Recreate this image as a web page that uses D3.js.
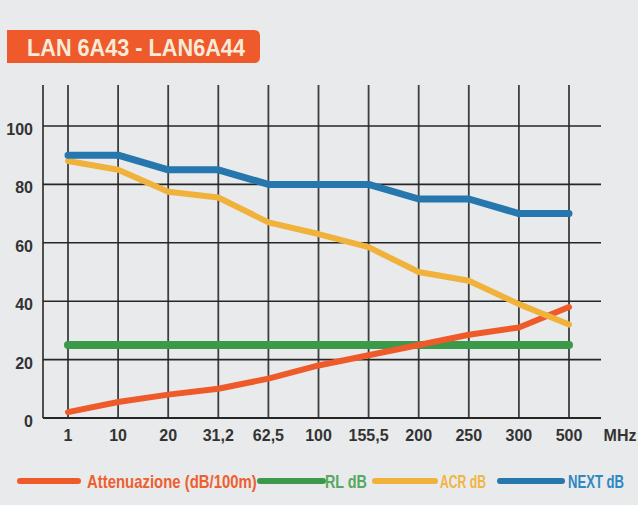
<!DOCTYPE html>
<html>
<head>
<meta charset="utf-8">
<script src="https://cdn.jsdelivr.net/npm/d3@7"></script>
<style>
  body { margin: 0; background: #e8eaeb; }
  text { font-family: "Liberation Sans Narrow", "Liberation Sans", sans-serif; font-weight: bold; }
</style>
</head>
<body>
<div id="chart"></div>
<script>
// frequencies on the x axis (MHz)
var freqLabels = ["1", "10", "20", "31,2", "62,5", "100", "155,5", "200", "250", "300", "500"];
var yTicks = [0, 20, 40, 60, 80, 100];

// series values
var attenuazione = [2, 5.5, 8, 10, 13.5, 18, 21.5, 25, 28.5, 31, 38];
var rl = [25, 25, 25, 25, 25, 25, 25, 25, 25, 25, 25];
var acr = [88, 85, 77.5, 75.5, 67, 63, 58.5, 50, 47, 39, 32];
var next = [90, 90, 85, 85, 80, 80, 80, 75, 75, 70, 70];

var seriesNames = ["Attenuazione (dB/100m)", "RL dB", "ACR dB", "NEXT dB"];
var seriesColors = ["#ee5a2a", "#3b9a49", "#f0b23b", "#2577ad"];
var textColors = ["#ee5f30", "#56a862", "#f1b445", "#2f88c2"];
var seriesWidths = [6, 8, 6, 7];
var title = "LAN 6A43 - LAN6A44";

var W = 638, H = 505;
var svg = d3.select("#chart").append("svg")
  .attr("width", W)
  .attr("height", H);

svg.append("rect").attr("width", W).attr("height", H).attr("fill", "#e8eaeb");

// squeeze a text horizontally to a given width (condensed look)
function squeeze(sel, px, py, targetW) {
  var natural = sel.node().getComputedTextLength();
  sel.attr("transform", "translate(" + px + "," + py + ") scale(" + (targetW / natural) + ",1)");
}

// title badge
svg.append("path")
  .attr("d", "M7,30 H254 Q260,30 260,36 V57 Q260,63 254,63 H7 Z")
  .attr("fill", "#ee5a2b");
var titleText = svg.append("text")
  .attr("font-size", 24)
  .attr("fill", "#f8ead9")
  .text(title);
squeeze(titleText, 27, 56, 218);

var x = d3.scalePoint()
  .domain(freqLabels)
  .range([68, 569]);
var y = d3.scaleLinear()
  .domain([0, 100])
  .range([418, 126]);

var grid = svg.append("g").attr("class", "grid");

// vertical lines (incl. left edge)
grid.selectAll(".vline")
  .data([null].concat(freqLabels))
  .enter().append("line")
  .attr("x1", function(d) { return d === null ? 43 : x(d); })
  .attr("x2", function(d) { return d === null ? 43 : x(d); })
  .attr("y1", y(114))
  .attr("y2", y(0))
  .attr("stroke", "#3e3e3e")
  .attr("stroke-width", 1.8);

grid.selectAll(".hline")
  .data(yTicks)
  .enter().append("line")
  .attr("x1", 43)
  .attr("x2", 601)
  .attr("y1", function(d) { return y(d); })
  .attr("y2", function(d) { return y(d); })
  .attr("stroke", "#262626")
  .attr("stroke-width", function(d) { return d === 0 ? 2 : 1.6; });

// y labels
svg.selectAll(".ylab")
  .data(yTicks)
  .enter().append("text")
  .attr("x", 33)
  .attr("y", function(d) { return y(d) + 9; })
  .attr("text-anchor", "end")
  .attr("font-size", 16)
  .attr("fill", "#333")
  .text(function(d) { return d; });

// x labels
svg.selectAll(".xlab")
  .data(freqLabels)
  .enter().append("text")
  .attr("x", function(d) { return x(d); })
  .attr("y", 441)
  .attr("text-anchor", "middle")
  .attr("font-size", 16)
  .attr("fill", "#333")
  .text(function(d) { return d; });
svg.append("text")
  .attr("x", 620).attr("y", 441)
  .attr("text-anchor", "middle")
  .attr("font-size", 16)
  .attr("fill", "#333")
  .text("MHz");

// series lines
var allSeries = [attenuazione, rl, acr, next];
var line = d3.line()
  .x(function(d, i) { return x(freqLabels[i]); })
  .y(function(d) { return y(d); });

// draw order: green, orange, yellow, blue
[1, 0, 2, 3].forEach(function(k) {
  svg.append("path")
    .datum(allSeries[k])
    .attr("d", line)
    .attr("fill", "none")
    .attr("stroke", seriesColors[k])
    .attr("stroke-width", seriesWidths[k])
    .attr("stroke-linejoin", "round")
    .attr("stroke-linecap", "round");
});

// legend
var legLineX = [20, 260, 375, 500];
var legLineW = [58, 63, 60, 62];
var legTextX = [87, 325, 440, 568];
var legTextW = [170, 42, 46, 56];
var legY = 481;
var legend = svg.append("g").attr("class", "legend");
seriesNames.forEach(function(name, k) {
  legend.append("line")
    .attr("x1", legLineX[k]).attr("x2", legLineX[k] + legLineW[k])
    .attr("y1", legY).attr("y2", legY)
    .attr("stroke", seriesColors[k])
    .attr("stroke-width", 6)
    .attr("stroke-linecap", "round");
  var t = legend.append("text")
    .attr("font-size", 18)
    .attr("fill", textColors[k])
    .text(name);
  squeeze(t, legTextX[k], legY + 7, legTextW[k]);
});
</script>
</body>
</html>
